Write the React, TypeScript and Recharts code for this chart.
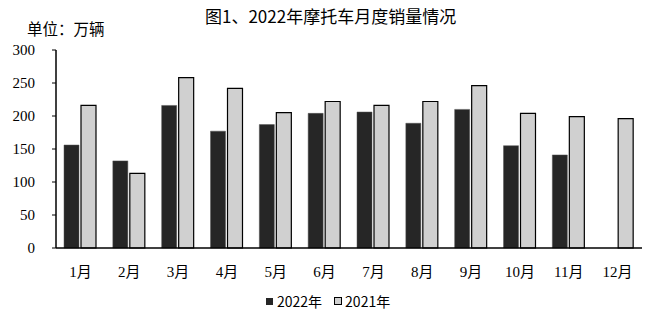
import React from 'react';
import { BarChart, Bar, XAxis, YAxis } from 'recharts';

const months = ['1月', '2月', '3月', '4月', '5月', '6月', '7月', '8月', '9月', '10月', '11月', '12月'];
const sales2022: (number | null)[] = [156, 132, 216, 177, 187, 204, 206, 189, 210, 155, 141, null];
const sales2021: number[] = [216, 113, 258, 242, 205, 222, 216, 222, 246, 204, 199, 196];
const yTicks = [0, 50, 100, 150, 200, 250, 300];

const data = months.map((m, i) => ({ month: m, y2022: sales2022[i], y2021: sales2021[i] }));

const cjkSans = '"Noto Sans CJK SC", "Liberation Sans", sans-serif';
const serif = '"Liberation Serif", "Noto Sans CJK SC", serif';

export default function App() {
  return (
    <div style={{ position: 'absolute', left: 0, top: 0, width: 652, height: 316, background: '#fff' }}>
      <div style={{ position: 'absolute', left: 205, top: 5, fontFamily: cjkSans, fontSize: 17, color: '#000', lineHeight: '22px', whiteSpace: 'nowrap' }}>
        图1、2022年摩托车月度销量情况
      </div>
      <div style={{ position: 'absolute', left: 27, top: 17, fontFamily: cjkSans, fontSize: 15.5, color: '#000', lineHeight: '22px', whiteSpace: 'nowrap' }}>
        单位：万辆
      </div>
      <BarChart width={652} height={316} data={data} margin={{ top: 50, right: 10, bottom: 38, left: 0 }} barSize={15} barGap={2}>
        <XAxis dataKey="month" height={30} axisLine={{ stroke: '#000', strokeWidth: 1.5 }} tickLine={false}
          tick={{ fill: '#000', fontSize: 15, fontFamily: serif }} tickMargin={12} interval={0} />
        <YAxis width={56} domain={[0, 300]} ticks={yTicks} axisLine={{ stroke: '#000', strokeWidth: 1.5 }}
          tickLine={{ stroke: '#000' }} tickSize={4} tickMargin={17}
          tick={{ fill: '#000', fontSize: 15, fontFamily: serif }} />
        <Bar dataKey="y2022" fill="#262626" stroke="#555" strokeWidth={0.5} isAnimationActive={false} />
        <Bar dataKey="y2021" fill="#d0d0d0" stroke="#000" strokeWidth={1.2} isAnimationActive={false} />
      </BarChart>
      <div style={{ position: 'absolute', left: 266, top: 292, display: 'flex', alignItems: 'center', fontFamily: cjkSans, fontSize: 14, color: '#000', lineHeight: '18px' }}>
        <span style={{ display: 'inline-block', width: 7, height: 7, background: '#262626', marginRight: 4 }} />
        <span>2022年</span>
        <span style={{ display: 'inline-block', width: 6, height: 6, background: '#d0d0d0', border: '1px solid #000', marginLeft: 12, marginRight: 3 }} />
        <span>2021年</span>
      </div>
    </div>
  );
}
